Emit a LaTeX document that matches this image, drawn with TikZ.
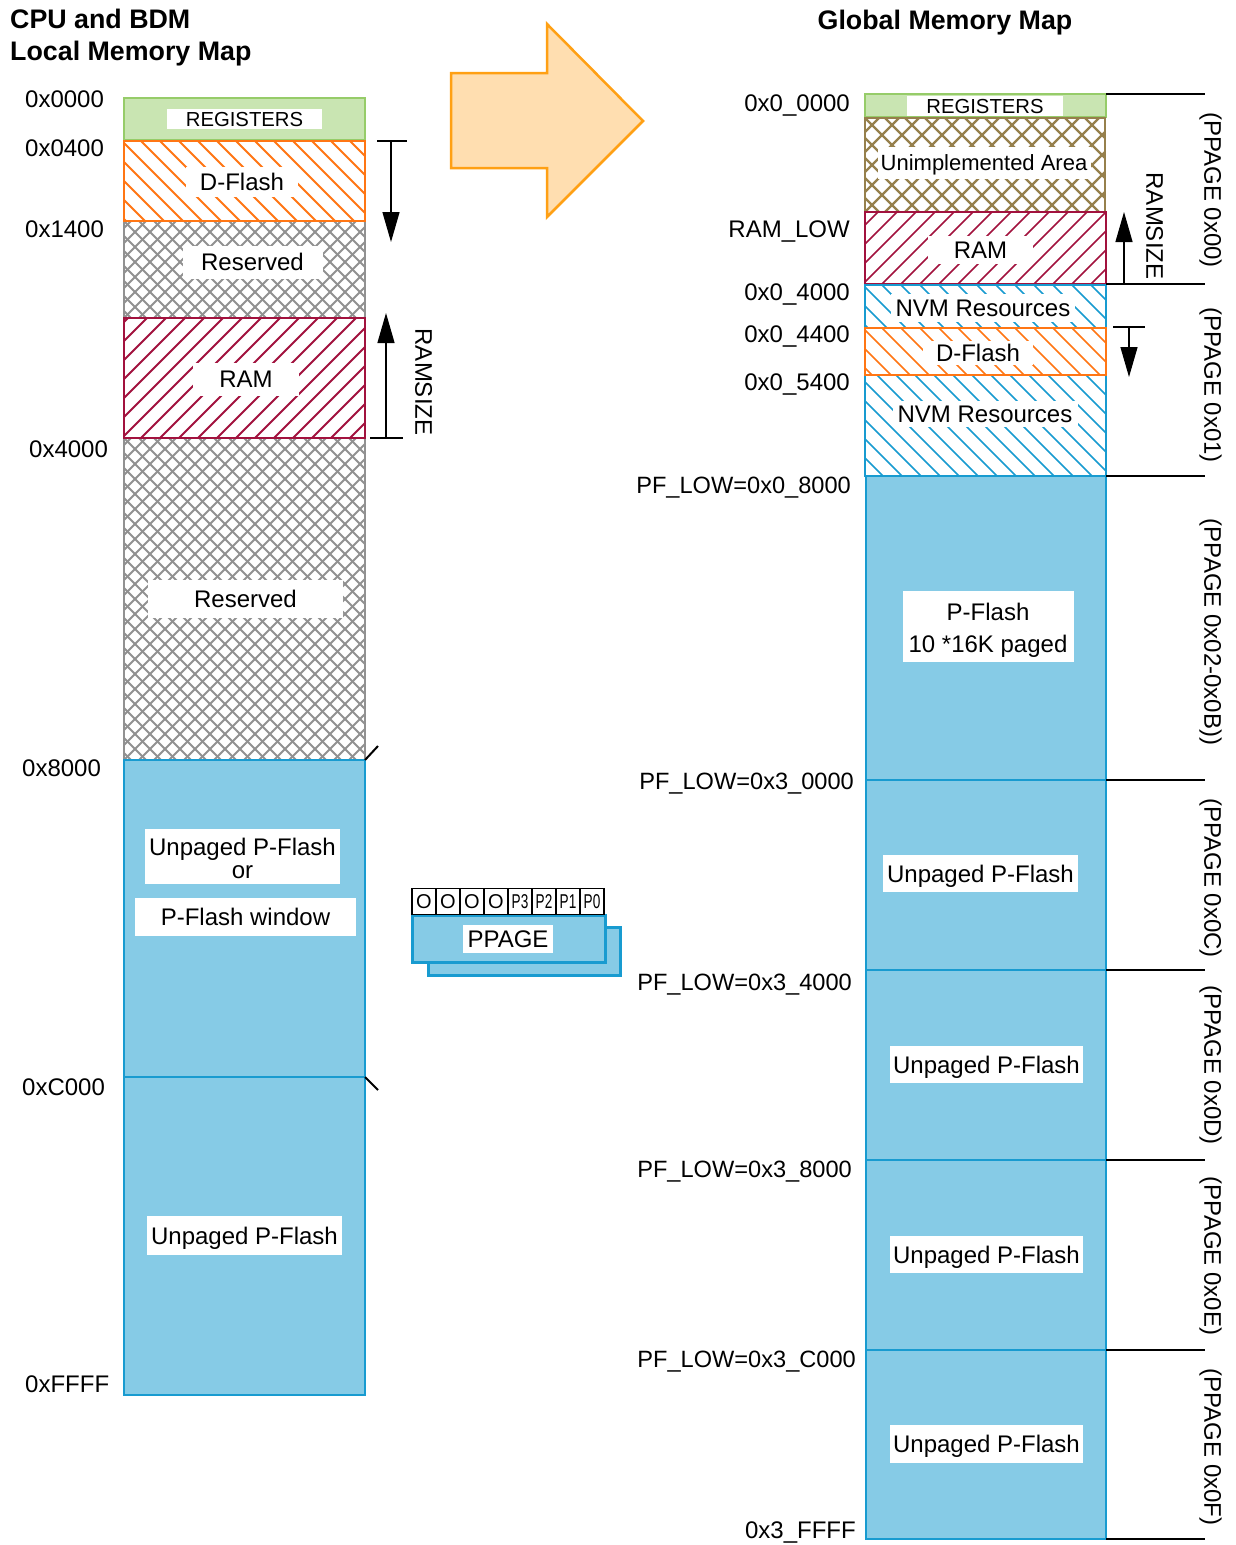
\documentclass[tikz,border=0pt]{standalone}
\usepackage{fontspec}
\setmainfont{Liberation Sans}
\usepackage{graphicx}
\usetikzlibrary{arrows.meta}
\definecolor{regfill}{RGB}{201,229,178}
\definecolor{regline}{RGB}{150,204,105}
\definecolor{dfl}{RGB}{255,118,20}
\definecolor{ramc}{RGB}{162,18,62}
\definecolor{resc}{RGB}{145,145,145}
\definecolor{unimc}{RGB}{150,128,76}
\definecolor{pfill}{RGB}{134,203,230}
\definecolor{pline}{RGB}{24,155,208}
\definecolor{arrfill}{RGB}{255,222,176}
\definecolor{arrline}{RGB}{255,160,20}
% lines going down-right
\newcommand\hatchdn[6]{%
\begin{scope}
\clip (#1,#2) rectangle (#3,#4);
\foreach \s in {-420,-401,...,420}{\draw[#5,line width=#6] ({#1+(\s)},#2) -- ++(420,420);}
\end{scope}}
% lines going up-right
\newcommand\hatchup[6]{%
\begin{scope}
\clip (#1,#2) rectangle (#3,#4);
\foreach \s in {-420,-401,...,420}{\draw[#5,line width=#6] ({#1+(\s)},#4) -- ++(420,-420);}
\end{scope}}
% cross hatch, spacing 15
\newcommand\xhatch[6]{%
\begin{scope}
\clip (#1,#2) rectangle (#3,#4);
\foreach \s in {-420,-405,...,420}{%
 \draw[#5,line width=#6] ({#1+(\s)},#2) -- ++(420,420);
 \draw[#5,line width=#6] ({#1+(\s)},#4) -- ++(420,-420);}
\end{scope}}
% cross hatch, spacing 20
\newcommand\xhatchwide[6]{%
\begin{scope}
\clip (#1,#2) rectangle (#3,#4);
\foreach \s in {-420,-400,...,420}{%
 \draw[#5,line width=#6] ({#1+(\s)},#2) -- ++(420,420);
 \draw[#5,line width=#6] ({#1+(\s)},#4) -- ++(420,-420);}
\end{scope}}
\tikzset{
 txt/.style={font=\fontsize{24}{25}\selectfont, inner sep=0pt, text height=17.3pt, text depth=0pt},
 pftxt/.style={font=\fontsize{23.6}{25}\selectfont, inner sep=0pt, text height=17pt, text depth=0pt},
 ttl/.style={font=\fontsize{26.8}{28}\selectfont\bfseries, inner sep=0pt, text height=19.3pt, text depth=0pt},
 wbox/.style={fill=white, inner sep=0pt},
 regtxt/.style={font=\fontsize{20.3}{21}\selectfont, inner sep=0pt, text height=14.6pt, text depth=0pt},
 bord/.style={line width=2.9pt},
 dim/.style={line width=1.3pt, -{Triangle[length=30pt,width=17pt]}},
 tick/.style={line width=1.3pt},
 sep/.style={line width=1.4pt},
 bit/.style={draw, line width=1.2pt, fill=white, minimum width=24pt, minimum height=26pt, inner sep=0pt, font=\fontsize{20}{20}\selectfont, text height=14.4pt, text depth=0pt},
 vlab/.style={txt, rotate=-90}
}
\begin{document}
\begin{tikzpicture}[x=1pt,y=-1pt]
\useasboundingbox (0,0) rectangle (1235,1545);
\fill[white] (0,0) rectangle (1235,1545);

% ---------- titles ----------
\node[ttl, anchor=west] (t1) at (10,19) {CPU and BDM};
\node[ttl, anchor=west] (t2) at (10,51) {Local Memory Map};
\node[ttl] (t3) at (945,20) {Global Memory Map};

% ---------- left column ----------
\draw[regline, fill=regfill, bord] (124,98) rectangle (365,140);
\xhatch{124}{221}{365}{318}{resc}{2pt}
\draw[resc, bord] (124,221) rectangle (365,318);
\xhatch{124}{438}{365}{760}{resc}{2pt}
\draw[resc, bord] (124,438) rectangle (365,760);
\hatchdn{124}{141}{365}{221}{dfl}{1.8pt}
\draw[dfl, bord] (124,141) rectangle (365,221);
\hatchup{124}{318}{365}{438}{ramc}{1.8pt}
\draw[ramc, bord] (124,318) rectangle (365,438);
\draw[pline, fill=pfill, bord] (124,760) rectangle (365,1077);
\draw[pline, fill=pfill, bord] (124,1077) rectangle (365,1395);

\node[regtxt, wbox, minimum width=155, minimum height=20] (lreg) at (244.5,119) {REGISTERS};
\node[txt, wbox, minimum width=112, minimum height=30] (ldf) at (242,182) {D-Flash};
\node[txt, wbox, minimum width=140, minimum height=33] (lres1) at (252.5,262) {Reserved};
\node[txt, wbox, minimum width=106, minimum height=33] (lram) at (246,379) {RAM};
\node[txt, wbox, minimum width=195, minimum height=38] (lres2) at (245.5,599) {Reserved};
\node[wbox, minimum width=195, minimum height=55] (lupbox) at (242.5,856.5) {};
\node[txt] (lup1) at (242.5,847) {Unpaged P-Flash};
\node[txt] (lup2) at (242.5,870) {or};
\node[txt, wbox, minimum width=221, minimum height=38] (lwin) at (245.5,917) {P-Flash window};
\node[txt, wbox, minimum width=195, minimum height=39] (lup3) at (244.5,1235.5) {Unpaged P-Flash};

% left addresses
\node[txt, anchor=west] (la0) at (25,98.5) {0x0000};
\node[txt, anchor=west] (la1) at (25,147.5) {0x0400};
\node[txt, anchor=west] (la2) at (25,228.5) {0x1400};
\node[txt, anchor=west] (la3) at (29,449) {0x4000};
\node[txt, anchor=west] (la4) at (22,768) {0x8000};
\node[txt, anchor=west] (la5) at (22,1087) {0xC000};
\node[txt, anchor=west] (la6) at (25,1384) {0xFFFF};

% left dimension arrows
\coordinate (ldA) at (391,141);
\coordinate (ldB) at (391,242);
\draw[tick] (377,141) -- (407,141);
\draw[dim] (ldA) -- (ldB);
\coordinate (lrA) at (386,438);
\coordinate (lrB) at (386,313);
\draw[tick] (370,438) -- (403,438);
\draw[dim] (lrA) -- (lrB);
\node[vlab] (lramsize) at (424,382) {RAMSIZE};

% small ticks
\draw[line width=2pt] (365,760) -- (378,746);
\draw[line width=2pt] (365,1077) -- (378,1090);

% ---------- big arrow ----------
\draw[arrline, fill=arrfill, line width=2.5pt, line join=miter]
 (451,73) -- (547,73) -- (547,24) -- (643,121) -- (547,217) -- (547,168) -- (451,168) -- cycle;

% ---------- PPAGE register ----------
\draw[pline, fill=pfill, line width=3pt] (428,927) rectangle (620,975);
\draw[pline, fill=pfill, line width=3pt] (412,915) rectangle (605,962);
\node[txt, wbox, minimum width=90, minimum height=28] (ppage) at (508,939) {PPAGE};
\node[bit] (b7) at (424,901.5) {O};
\node[bit] (b6) at (448,901.5) {O};
\node[bit] (b5) at (472,901.5) {O};
\node[bit] (b4) at (496,901.5) {O};
\node[bit] (b3) at (520,901.5) {\scalebox{0.68}[1]{P3}};
\node[bit] (b2) at (544,901.5) {\scalebox{0.68}[1]{P2}};
\node[bit] (b1) at (568,901.5) {\scalebox{0.68}[1]{P1}};
\node[bit] (b0) at (592,901.5) {\scalebox{0.68}[1]{P0}};

% ---------- right column ----------
\draw[regline, fill=regfill, bord] (865,94) rectangle (1106,117);
\xhatchwide{865}{118}{1105}{212}{unimc}{2.2pt}
\draw[unimc, bord] (865,118) rectangle (1105,212);
\hatchup{865}{212}{1106}{284}{ramc}{1.6pt}
\draw[ramc, bord] (865,212) rectangle (1106,284);
\hatchdn{865}{285}{1106}{476}{pline}{1.6pt}
\draw[pline, bord] (865,285) rectangle (1106,476);
\fill[white] (865,328) rectangle (1106,375);
\hatchdn{865}{328}{1106}{375}{dfl}{1.6pt}
\draw[dfl, bord] (865,328) rectangle (1106,375);
\draw[pline, fill=pfill, bord] (866,476) rectangle (1106,780);
\draw[pline, fill=pfill, bord] (866,780) rectangle (1106,970);
\draw[pline, fill=pfill, bord] (866,970) rectangle (1106,1160);
\draw[pline, fill=pfill, bord] (866,1160) rectangle (1106,1350);
\draw[pline, fill=pfill, bord] (866,1350) rectangle (1106,1539);

\node[regtxt, wbox, minimum width=156, minimum height=20] (rreg) at (985,106) {REGISTERS};
\node[wbox, minimum width=213, minimum height=32, font=\fontsize{22}{24}\selectfont, text height=15.8pt, text depth=0pt] (runim) at (984,163) {Unimplemented Area};
\node[txt, wbox, minimum width=105, minimum height=28] (rram) at (980.5,250) {RAM};
\node[txt, wbox, minimum width=184, minimum height=28] (rnvm1) at (983,308) {NVM Resources};
\node[txt, wbox, minimum width=110, minimum height=24] (rdf) at (978,353) {D-Flash};
\node[txt, wbox, minimum width=185, minimum height=26] (rnvm2) at (985,414) {NVM Resources};
\node[wbox, minimum width=171, minimum height=71] (rpfbox) at (988.5,626.5) {};
\node[txt] (rpf1) at (988,612) {P-Flash};
\node[txt] (rpf2) at (988,644) {10 *16K paged};
\node[txt, wbox, minimum width=195, minimum height=37] (rup1) at (980.5,873.5) {Unpaged P-Flash};
\node[txt, wbox, minimum width=193, minimum height=37] (rup2) at (986.5,1064.5) {Unpaged P-Flash};
\node[txt, wbox, minimum width=193, minimum height=37] (rup3) at (986.5,1254.5) {Unpaged P-Flash};
\node[txt, wbox, minimum width=193, minimum height=38] (rup4) at (986.5,1444) {Unpaged P-Flash};

% right addresses
\node[txt, anchor=east] (ra0) at (850,103) {0x0\_0000};
\node[txt, anchor=east] (ra1) at (850,228.5) {RAM\_LOW};
\node[txt, anchor=east] (ra2) at (850,292) {0x0\_4000};
\node[txt, anchor=east] (ra3) at (850,334) {0x0\_4400};
\node[txt, anchor=east] (ra4) at (850,382) {0x0\_5400};
\node[pftxt, anchor=east] (ra5) at (851,485) {PF\_LOW=0x0\_8000};
\node[pftxt, anchor=east] (ra6) at (854,781) {PF\_LOW=0x3\_0000};
\node[pftxt, anchor=east] (ra7) at (852,982) {PF\_LOW=0x3\_4000};
\node[pftxt, anchor=east] (ra8) at (852,1169) {PF\_LOW=0x3\_8000};
\node[pftxt, anchor=east] (ra9) at (856,1359) {PF\_LOW=0x3\_C000};
\node[txt, anchor=east] (ra10) at (856,1530) {0x3\_FFFF};

% right separators
\foreach \yy in {94,284,476,780,970,1160,1350,1539}{\draw[sep] (1106,\yy) -- (1205,\yy);}

% right dimension arrows
\coordinate (rrA) at (1124,284);
\coordinate (rrB) at (1124,212);
\draw[dim] (rrA) -- (rrB);
\node[vlab] (rramsize) at (1155,226) {RAMSIZE};
\coordinate (rdA) at (1129,327);
\coordinate (rdB) at (1129,377);
\draw[tick] (1113,327) -- (1145,327);
\draw[dim] (rdA) -- (rdB);

% PPAGE labels
\node[vlab] (p0) at (1213,190) {(PPAGE 0x00)};
\node[vlab] (p1) at (1213,385) {(PPAGE 0x01)};
\node[vlab] (p2) at (1213,632) {(PPAGE 0x02-0x0B))};
\node[vlab] (p3) at (1213,878) {(PPAGE 0x0C)};
\node[vlab] (p4) at (1213,1065) {(PPAGE 0x0D)};
\node[vlab] (p5) at (1213,1256) {(PPAGE 0x0E)};
\node[vlab] (p6) at (1213,1447) {(PPAGE 0x0F)};
\end{tikzpicture}
\end{document}
